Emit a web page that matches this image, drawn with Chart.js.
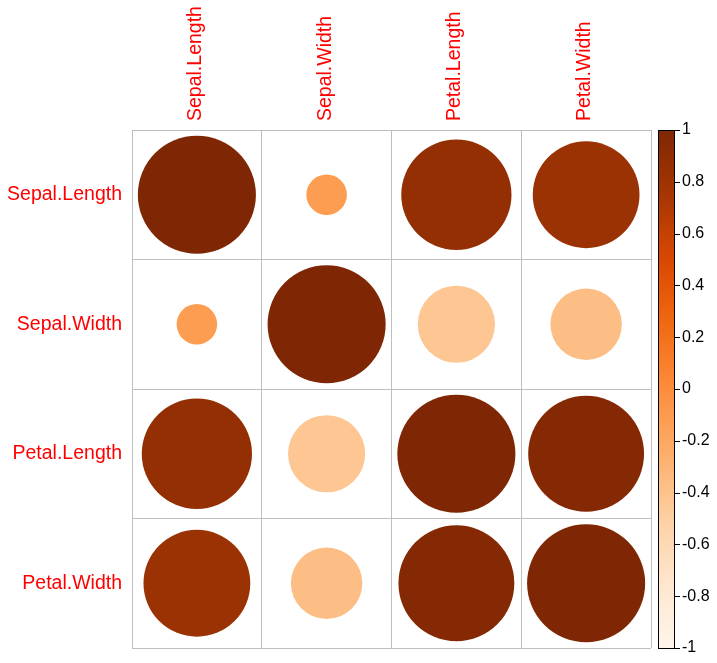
<!DOCTYPE html>
<html>
<head>
<meta charset="utf-8">
<script src="https://cdn.jsdelivr.net/npm/chart.js@4/dist/chart.umd.min.js"></script>
<style>
  html, body { margin: 0; padding: 0; background: #ffffff; }
  canvas { display: block; }
</style>
</head>
<body>
<canvas id="c" width="717" height="663"></canvas>
<script>
// ---- data ----
const varNames = ['Sepal.Length', 'Sepal.Width', 'Petal.Length', 'Petal.Width'];
const corrSepalLength = [1.000, -0.118, 0.872, 0.818];
const corrSepalWidth  = [-0.118, 1.000, -0.428, -0.366];
const corrPetalLength = [0.872, -0.428, 1.000, 0.963];
const corrPetalWidth  = [0.818, -0.366, 0.963, 1.000];
const corrRows = [corrSepalLength, corrSepalWidth, corrPetalLength, corrPetalWidth];

const paletteColors = ['#FFF5EB', '#FEE6CE', '#FDD0A2', '#FDAE6B', '#FD8D3C', '#F16913', '#D94801', '#A63603', '#7F2704'];
const cbTickValues = [1, 0.8, 0.6, 0.4, 0.2, 0, -0.2, -0.4, -0.6, -0.8, -1];
const cbTickLabels = ['1', '0.8', '0.6', '0.4', '0.2', '0', '-0.2', '-0.4', '-0.6', '-0.8', '-1'];

// ---- helpers ----
function hexToRgb(h) {
  return [parseInt(h.substr(1, 2), 16), parseInt(h.substr(3, 2), 16), parseInt(h.substr(5, 2), 16)];
}
function colorFor(v) {
  const t = Math.max(0, Math.min(1, (v + 1) / 2)) * (paletteColors.length - 1);
  const i = Math.min(paletteColors.length - 2, Math.floor(t));
  const f = t - i;
  const a = hexToRgb(paletteColors[i]), b = hexToRgb(paletteColors[i + 1]);
  const c = a.map((x, k) => Math.round(x + (b[k] - x) * f));
  return `rgb(${c[0]},${c[1]},${c[2]})`;
}

const points = [];
corrRows.forEach((row, ri) => {
  row.forEach((v, ci) => {
    points.push({ x: varNames[ci], y: varNames[ri], v: v });
  });
});

// scatter controller whose circles do not add outer padding to the layout
class CorrController extends Chart.ScatterController {
  getMaxOverflow() { return false; }
}
CorrController.id = 'corrcircles';
CorrController.defaults = Chart.ScatterController.defaults;
CorrController.overrides = Chart.ScatterController.overrides;
Chart.register(CorrController);

const FONT = "'Liberation Sans', Arial, Helvetica, sans-serif";
const GRID = '#BEBEBE';

function valueOf(ctx) {
  const p = ctx && ctx.raw;
  return p && typeof p.v === 'number' ? p.v : 0;
}
function circleRadius(ctx) {
  const xs = ctx.chart.scales && ctx.chart.scales.x;
  if (!xs || !xs.width) return 0;
  const cell = xs.width / varNames.length;
  return 0.455 * cell * Math.sqrt(Math.abs(valueOf(ctx)));
}
function zeroPad(s) {
  s.paddingTop = 0; s.paddingBottom = 0; s.paddingLeft = 0; s.paddingRight = 0;
}

const colorbarPlugin = {
  id: 'colorbar',
  afterDraw(chart) {
    const s = chart.scales.cb;
    const ctx = chart.ctx;
    const x0 = chart.chartArea.right + 7;
    const x1 = chart.chartArea.right + 23;
    const yTop = s.getPixelForValue(1);
    const yBot = s.getPixelForValue(-1);
    const g = ctx.createLinearGradient(0, yBot, 0, yTop);
    paletteColors.forEach((c, i) => g.addColorStop(i / (paletteColors.length - 1), c));
    ctx.save();
    ctx.fillStyle = g;
    ctx.fillRect(x0, yTop, x1 - x0, yBot - yTop);
    ctx.strokeStyle = '#000000';
    ctx.lineWidth = 1;
    ctx.strokeRect(Math.round(x0) + 0.5, Math.round(yTop) + 0.5, Math.round(x1 - x0), Math.round(yBot - yTop));
    ctx.beginPath();
    cbTickValues.forEach(v => {
      const y = Math.round(s.getPixelForValue(v)) + 0.5;
      ctx.moveTo(x1, y);
      ctx.lineTo(x1 + 6, y);
    });
    ctx.stroke();
    ctx.restore();
  }
};

new Chart(document.getElementById('c'), {
  type: 'corrcircles',
  data: {
    datasets: [{
      data: points,
      showLine: false,
      pointBorderWidth: 0,
      pointStyle: 'circle',
      pointBackgroundColor: ctx => colorFor(valueOf(ctx)),
      pointRadius: circleRadius,
      pointHoverRadius: circleRadius
    }]
  },
  options: {
    responsive: false,
    animation: false,
    events: [],
    layout: { padding: { left: 0, top: 0, right: 0, bottom: 15 } },
    plugins: { legend: { display: false }, tooltip: { enabled: false } },
    scales: {
      x: {
        type: 'category',
        labels: varNames,
        position: 'top',
        offset: true,
        grid: { offset: true, color: GRID, lineWidth: 1, drawTicks: false },
        border: { display: true, color: GRID, width: 1 },
        ticks: {
          autoSkip: false, minRotation: 90, maxRotation: 90, padding: 9, labelOffset: 22,
          color: '#FF0000', font: { family: FONT, size: 19.5 }
        },
        afterFit: s => { s.height = 130; zeroPad(s); }
      },
      y: {
        type: 'category',
        labels: varNames,
        position: 'left',
        offset: true,
        grid: { offset: true, color: GRID, lineWidth: 1, drawTicks: false },
        border: { display: true, color: GRID, width: 1 },
        ticks: {
          autoSkip: false, padding: 10,
          color: '#FF0000', font: { family: FONT, size: 19.5 }
        },
        afterFit: s => { s.width = 132; zeroPad(s); }
      },
      cb: {
        type: 'linear',
        position: 'right',
        min: -1, max: 1,
        grid: { display: false, drawTicks: false },
        border: { display: false },
        afterBuildTicks: s => { s.ticks = cbTickValues.map(v => ({ value: v })); },
        ticks: {
          autoSkip: false, padding: 31,
          color: '#000000', font: { family: FONT, size: 16 },
          callback: (val) => {
            const i = cbTickValues.findIndex(t => Math.abs(t - val) < 1e-9);
            return i >= 0 ? cbTickLabels[i] : '';
          }
        },
        afterFit: s => { s.width = 66; zeroPad(s); }
      }
    }
  },
  plugins: [colorbarPlugin]
});
</script>
</body>
</html>
